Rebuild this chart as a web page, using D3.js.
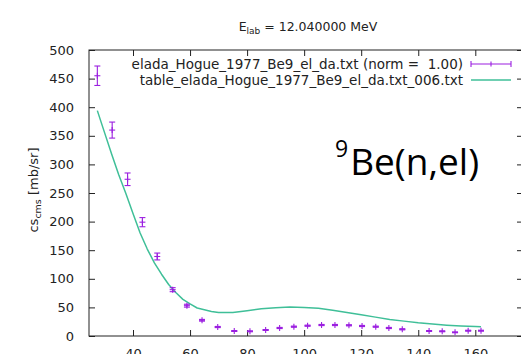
<!DOCTYPE html>
<html>
<head>
<meta charset="utf-8">
<script src="https://cdn.jsdelivr.net/npm/d3@7"></script>
<style>
  html, body { margin: 0; padding: 0; background: #fff; }
  svg { display: block; }
  text { white-space: pre; }
</style>
</head>
<body>
<svg id="chart" width="521" height="354"></svg>
<script>
// Measured angular distribution (c.m. angle in degrees, mb/sr, error)
const expAngle = [27.5, 32.7, 38.1, 43.3, 48.5, 53.9, 58.9, 64.2, 69.7, 75.5, 81.0, 86.5, 91.4, 96.4,
                  101.2, 106.1, 110.8, 115.7, 120.3, 125.1, 129.7, 134.4, 143.8, 148.4, 152.9, 157.5, 162.0];
const expCs    = [455, 360, 274, 199, 139, 81, 53, 27.5, 15.7, 8.7, 8.2, 10.5, 14, 16.3,
                  18, 19.2, 19.2, 18.7, 17.5, 16.3, 14, 11.7, 8.7, 8.2, 6.4, 9.3, 9.3];
const expErr   = [17, 14, 11, 8, 6, 3.5, 2.5, 1.5, 1, 0.8, 0.8, 0.8, 1, 1,
                  1, 1, 1, 1, 1, 1, 1, 1, 0.8, 0.8, 0.7, 0.8, 0.8];

// Evaluated table curve
const calcAngle = [27.5, 30, 32.5, 35, 37.5, 40, 42.5, 45, 47.5, 50, 52.5, 55, 57.5, 60, 62.5, 65, 67.5,
                   70, 75, 80, 85, 90, 95, 100, 105, 110, 115, 120, 125, 130, 135, 140, 145, 150, 155, 160, 162];
const calcCs    = [394, 356, 318, 282, 249, 214, 180, 152, 128, 108, 90, 76, 64, 56, 49, 46, 43,
                   41, 41, 44, 47.5, 49.5, 50.5, 50, 48.5, 45, 41, 37, 33, 29, 26, 23, 21, 19, 17.5, 16.5, 16];

const xTicks = [40, 60, 80, 100, 120, 140, 160, 180];
const yTicks = [0, 50, 100, 150, 200, 250, 300, 350, 400, 450, 500];

const titleText = "12.040000 MeV";
const legendExp = "elada_Hogue_1977_Be9_el_da.txt (norm =  1.00)";
const legendCalc = "table_elada_Hogue_1977_Be9_el_da.txt_006.txt";

const expColor = "#9b1fe0";
const calcColor = "#3fbf98";
const inkColor = "#222";
const font = "DejaVu Sans, sans-serif";

const svg = d3.select("#chart");

const plot = { left: 89, right: 523, top: 50, bottom: 336 };

const x = d3.scaleLinear().domain([40, 160]).range([133, 475.3]);
const y = d3.scaleLinear().domain([0, 500]).range([plot.bottom, plot.top]);

const tickLen = 6;

// Frame
svg.append("rect")
  .attr("x", plot.left).attr("y", plot.top)
  .attr("width", plot.right - plot.left).attr("height", plot.bottom - plot.top)
  .attr("fill", "none").attr("stroke", inkColor).attr("stroke-width", 1);

// Bottom axis (ticks drawn inward)
const xAxis = d3.axisBottom(x).tickValues(xTicks).tickSizeInner(-tickLen).tickSizeOuter(0).tickPadding(13);
const gx = svg.append("g").attr("transform", `translate(0,${plot.bottom})`).call(xAxis);
gx.select(".domain").remove();
gx.selectAll("line").attr("stroke", inkColor);
gx.selectAll("text").attr("font-family", font).attr("font-size", 13).attr("fill", inkColor);

// Mirrored top ticks
const gxTop = svg.append("g").attr("transform", `translate(0,${plot.top})`)
  .call(d3.axisTop(x).tickValues(xTicks).tickSizeInner(-tickLen).tickSizeOuter(0).tickFormat(""));
gxTop.select(".domain").remove();
gxTop.selectAll("line").attr("stroke", inkColor);

// Left axis
const yAxis = d3.axisLeft(y).tickValues(yTicks).tickSizeInner(-tickLen).tickSizeOuter(0).tickPadding(15);
const gy = svg.append("g").attr("transform", `translate(${plot.left},0)`).call(yAxis);
gy.select(".domain").remove();
gy.selectAll("line").attr("stroke", inkColor);
gy.selectAll("text").attr("font-family", font).attr("font-size", 13).attr("fill", inkColor);

// Mirrored right ticks
const gyR = svg.append("g").attr("transform", `translate(${plot.right},0)`)
  .call(d3.axisRight(y).tickValues(yTicks).tickSizeInner(-tickLen).tickSizeOuter(0).tickFormat(""));
gyR.select(".domain").remove();
gyR.selectAll("line").attr("stroke", inkColor);

// Y label: cs_cms [mb/sr]
const yl = svg.append("text")
  .attr("transform", "translate(38,190) rotate(-90)")
  .attr("text-anchor", "middle")
  .attr("font-family", font).attr("font-size", 13).attr("fill", inkColor);
yl.append("tspan").text("cs");
yl.append("tspan").attr("font-size", 9.5).attr("dy", 3).text("cms");
yl.append("tspan").attr("dy", -3).text(" [mb/sr]");

// Title: E_lab = ...
const tt = svg.append("text")
  .attr("x", 308).attr("y", 31)
  .attr("text-anchor", "middle")
  .attr("font-family", font).attr("font-size", 12.5).attr("fill", inkColor);
tt.append("tspan").text("E");
tt.append("tspan").attr("font-size", 9).attr("dy", 3).text("lab");
tt.append("tspan").attr("dy", -3).text(" = " + titleText);

// Calculated curve
const line = d3.line().x((d, i) => x(calcAngle[i])).y(d => y(d));
svg.append("path")
  .datum(calcCs)
  .attr("d", line)
  .attr("fill", "none")
  .attr("stroke", calcColor)
  .attr("stroke-width", 1.5)
  .attr("stroke-linejoin", "round");

// Experimental points with error bars
const cap = 3, mark = 3;
const pts = svg.append("g").attr("stroke", expColor).attr("stroke-width", 1.1).attr("fill", "none");
expCs.forEach((v, i) => {
  const cx = x(expAngle[i]);
  const yTop = y(v + expErr[i]), yBot = y(v - expErr[i]), cy = y(v);
  const g = pts.append("g");
  g.append("line").attr("x1", cx).attr("x2", cx).attr("y1", yTop).attr("y2", yBot);
  g.append("line").attr("x1", cx - cap).attr("x2", cx + cap).attr("y1", yTop).attr("y2", yTop);
  g.append("line").attr("x1", cx - cap).attr("x2", cx + cap).attr("y1", yBot).attr("y2", yBot);
  g.append("line").attr("x1", cx - mark).attr("x2", cx + mark).attr("y1", cy).attr("y2", cy);
  g.append("line").attr("x1", cx).attr("x2", cx).attr("y1", cy - mark).attr("y2", cy + mark);
});

// Legend
const lgTextX = 463, lgX1 = 471, lgX2 = 511;
svg.append("text").attr("x", lgTextX).attr("y", 69).attr("text-anchor", "end")
  .attr("xml:space", "preserve")
  .attr("font-family", font).attr("font-size", 13.5).attr("fill", inkColor).text(legendExp);
svg.append("text").attr("x", lgTextX).attr("y", 85).attr("text-anchor", "end")
  .attr("font-family", font).attr("font-size", 13.5).attr("fill", inkColor).text(legendCalc);

const lg = svg.append("g").attr("stroke", expColor).attr("stroke-width", 1.1);
lg.append("line").attr("x1", lgX1).attr("x2", lgX2).attr("y1", 64).attr("y2", 64);
lg.append("line").attr("x1", lgX1).attr("x2", lgX1).attr("y1", 61).attr("y2", 67);
lg.append("line").attr("x1", lgX2).attr("x2", lgX2).attr("y1", 61).attr("y2", 67);
lg.append("line").attr("x1", (lgX1 + lgX2) / 2).attr("x2", (lgX1 + lgX2) / 2).attr("y1", 61.5).attr("y2", 66.5);
svg.append("line").attr("x1", lgX1).attr("x2", lgX2).attr("y1", 80).attr("y2", 80)
  .attr("stroke", calcColor).attr("stroke-width", 1.5);

// Reaction annotation
const ann = svg.append("text")
  .attr("x", 335).attr("y", 175)
  .attr("font-family", "Open Sans, sans-serif").attr("font-size", 37).attr("fill", "#000");
ann.append("tspan").attr("font-size", 23).attr("dy", -18).text("9");
ann.append("tspan").attr("dy", 18).attr("dx", 2).text("Be(n,el)");
</script>
</body>
</html>
